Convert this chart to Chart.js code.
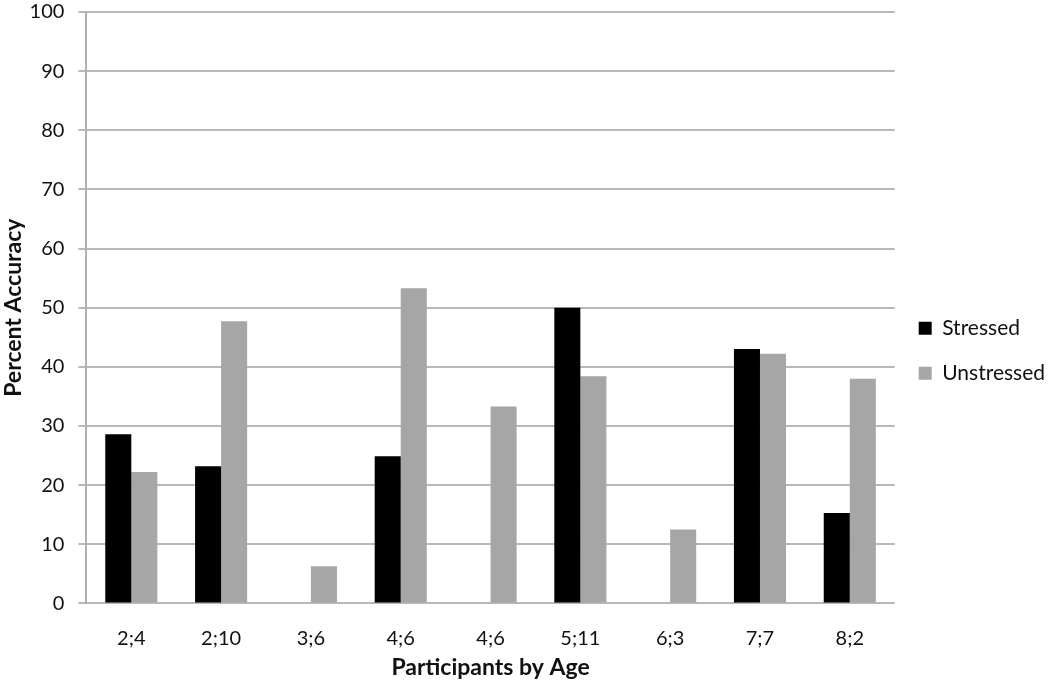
<!DOCTYPE html>
<html><head><meta charset="utf-8">
<script src="https://cdn.jsdelivr.net/npm/chart.js@4"></script>
<style>html,body{margin:0;padding:0;background:#fff}#w{width:1050px;height:687px}</style>
</head><body><div id="w"><canvas id="c"></canvas></div>
<script>
const categories = ["2;4","2;10","3;6","4;6","4;6","5;11","6;3","7;7","8;2"];
const stressed = [28.6, 23.2, 0, 24.9, 0, 50.0, 0, 43.0, 15.3];
const unstressed = [22.2, 47.7, 6.3, 53.3, 33.3, 38.4, 12.5, 42.2, 38.0];
const yTicks = [0,10,20,30,40,50,60,70,80,90,100];

const FONT = "Lato, 'Open Sans', sans-serif";
new Chart(document.getElementById('c'), {
  type: 'bar',
  data: {
    labels: categories,
    datasets: [
      {label: 'Stressed', data: stressed, backgroundColor: '#000000', barPercentage: 1.0, categoryPercentage: 0.58},
      {label: 'Unstressed', data: unstressed, backgroundColor: '#a6a6a6', barPercentage: 1.0, categoryPercentage: 0.58}
    ]
  },
  options: {
    responsive: true, maintainAspectRatio: false, animation: false,
    layout: {padding: {top: 0, right: -5, left: 0, bottom: 2}},
    plugins: {
      legend: {
        position: 'right',
        title: {display: true, text: ' ', font: {size: 2}, padding: 7},
        labels: {font: {family: FONT, size: 21}, color: '#111', boxWidth: 13, boxHeight: 13, padding: 24}
      },
      tooltip: {enabled: false}
    },
    scales: {
      x: {
        grid: {display: false},
        border: {display: false},
        ticks: {font: {family: FONT, size: 20}, color: '#111', padding: 15},
        title: {display: true, text: 'Participants by Age', font: {family: FONT, size: 23, weight: 'bold'}, color: '#111', padding: {top: -12, bottom: 4}}
      },
      y: {
        min: 0, max: 100,
        afterBuildTicks: (s) => { s.ticks = yTicks.map(v => ({value: v})); },
        afterFit: (s) => { s.paddingTop = 12; },
        grid: {color: '#b8b8b8', lineWidth: 2, tickLength: 8},
        border: {display: true, color: '#b0b0b0', width: 2},
        ticks: {font: {family: FONT, size: 20}, color: '#111', padding: 14},
        title: {display: true, text: 'Percent Accuracy', font: {family: FONT, size: 23, weight: 'bold'}, color: '#111', padding: {top: 0, bottom: -12}}
      }
    }
  }
});
</script></body></html>
